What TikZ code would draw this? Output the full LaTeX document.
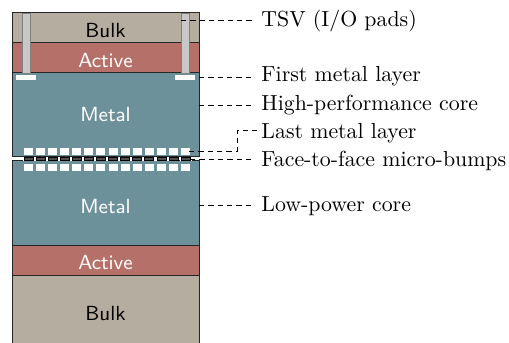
\documentclass[tikz,border=0pt]{standalone}
\usetikzlibrary{calc}
\definecolor{bulkc}{HTML}{B5AD9F}
\definecolor{activec}{HTML}{B5706A}
\definecolor{metalc}{HTML}{6C919B}
\definecolor{tsvc}{HTML}{C8C8C8}
\definecolor{bumpc}{HTML}{505050}
\tikzset{
 layer/.style={draw=black!85,line width=0.45pt},
 lbl/.style={anchor=west,inner sep=0pt,font=\fontsize{9.82}{12}\selectfont},
 inlbl/.style={font=\fontsize{9.2}{11}\selectfont\sffamily,inner sep=0pt},
 lead/.style={line width=0.4pt,dash pattern=on 2.4pt off 1.8pt},
}
\begin{document}
\begin{tikzpicture}[x=0.45pt,y=-0.45pt]
\useasboundingbox (0,0) rectangle (509,343);
% top die
\fill[bulkc] (12.5,13) rectangle (199,43);
\draw[layer] (12.5,13) rectangle (199,43);
\fill[activec] (12.5,43) rectangle (199,73);
\draw[layer] (12.5,43) rectangle (199,73);
\fill[metalc] (12.5,73) rectangle (199,157);
\draw[layer] (12.5,73) rectangle (199,157);
% TSVs
\foreach \xa in {22,181}{
 \draw[fill=tsvc,draw=black!50,line width=0.4pt] (\xa,13) rectangle (\xa+8.2,73);
}
\fill[white] (16,75) rectangle (36,80);
\fill[white] (175,75) rectangle (195,80);
% bottom die
\fill[metalc] (12.5,161) rectangle (199,245);
\draw[layer] (12.5,161) rectangle (199,245);
\fill[activec] (12.5,245) rectangle (199,275);
\draw[layer] (12.5,245) rectangle (199,275);
\fill[bulkc] (12.5,275) rectangle (199,343);
\draw[layer] (12.5,343) -- (12.5,275) -- (199,275) -- (199,343);
% bumps
\foreach \i in {0,...,13}{
 \pgfmathsetmacro{\bx}{24+12.08*\i}
 \fill[white] (\bx,148) rectangle (\bx+9,155);
 \fill[white] (\bx,164) rectangle (\bx+9,171);
 \fill[white] (\bx-1.5,157) rectangle (\bx+10.5,161);
 \draw[fill=bumpc,draw=black,line width=0.3pt] (\bx,157.2) rectangle (\bx+9,160.8);
}
% inner labels
\node[inlbl,text=black] (b1) at (105.5,30.5) {Bulk};
\node[inlbl,text=white] (a1) at (105.5,61) {Active};
\node[inlbl,text=white] (m1) at (105.5,115) {Metal};
\node[inlbl,text=white] (m2) at (105.5,207) {Metal};
\node[inlbl,text=white] (a2) at (105.5,263) {Active};
\node[inlbl,text=black] (b2) at (105.5,314) {Bulk};
% right labels
\node[lbl] (l1) at (261,21) {TSV (I/O pads)};
\node[lbl] (l2) at (261,76) {First metal layer};
\node[lbl] (l3) at (261,105) {High-performance core};
\node[lbl] (l4) at (261,133) {Last metal layer};
\node[lbl] (l5) at (261,161) {Face-to-face micro-bumps};
\node[lbl] (l6) at (261,206) {Low-power core};
% leaders
\coordinate (s1) at (181,20);
\coordinate (s2) at (199,77);
\coordinate (s3) at (199,105);
\coordinate (s4) at (189,151);
\coordinate (s5) at (190,159);
\coordinate (s6) at (199,205);
\coordinate (k1) at (237,151);
\coordinate (k2) at (237,130);
\draw[lead] (s1) -- (253,20);
\draw[lead] (s2) -- (253,77);
\draw[lead] (s3) -- (253,105);
\draw[lead] (s4) -- (k1) -- (k2) -- (l4.west |- k2);
\draw[lead] (s5) -- (253,159);
\draw[lead] (s6) -- (253,205);
\end{tikzpicture}
\end{document}
